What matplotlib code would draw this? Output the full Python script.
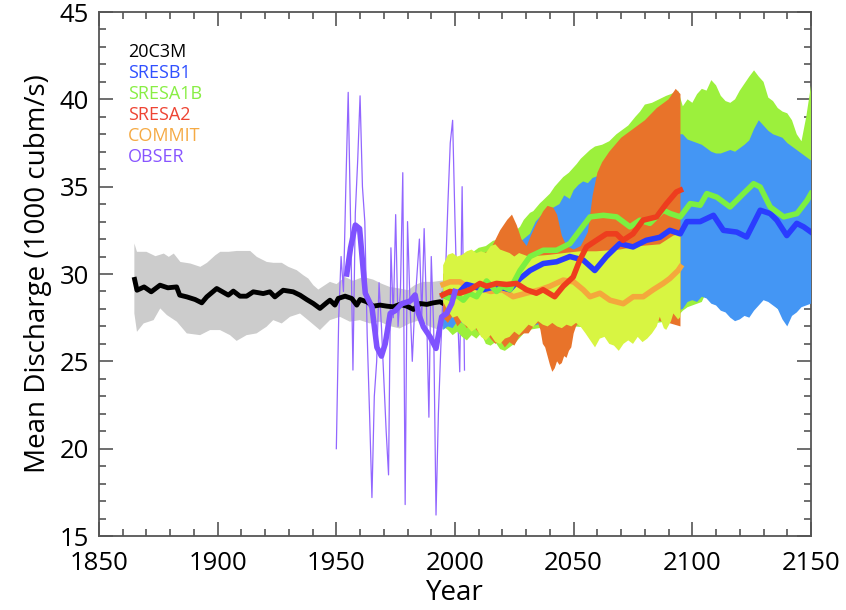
import numpy as np
import matplotlib
matplotlib.use("Agg")
import matplotlib.pyplot as plt
from matplotlib.ticker import MultipleLocator

# ---- 20C3M ensemble (mean + spread) ----
hist_years = [1865, 1866, 1869, 1872, 1875.7, 1879, 1882.7, 1884, 1887, 1890.5, 1893.3, 1895.4, 1899.6,
              1904.5, 1906.6, 1909.4, 1912.2, 1915, 1919.2, 1922, 1924.1, 1927.6, 1931.8, 1934.7, 1937.5,
              1940.3, 1943.1, 1945.9, 1947.3, 1949.4, 1950.8, 1953.7, 1956.5, 1958.6, 1960, 1962.8, 1965.6,
              1968.4, 1971.2, 1974, 1976.8, 1979.7, 1982.5, 1985.3, 1988.1, 1990.9, 1993.7, 1995.1]
hist_mean = [29.69, 29.07, 29.26, 28.98, 29.36, 29.21, 29.26, 28.79, 28.69, 28.54, 28.35, 28.69, 29.17,
             28.79, 29.02, 28.73, 28.73, 28.98, 28.88, 28.98, 28.69, 29.07, 28.98, 28.79, 28.54,
             28.31, 28.03, 28.35, 28.50, 28.22, 28.60, 28.73, 28.60, 28.22, 28.54, 28.41, 28.16,
             28.22, 28.16, 28.12, 28.26, 28.16, 27.97, 28.31, 28.26, 28.35, 28.41, 28.31]

hist_hi_years = [1864.9, 1866, 1870, 1873.8, 1877.3, 1879.4, 1881.5, 1884.3, 1888.5, 1892.7, 1895.5, 1899,
                 1901.1, 1904.6, 1908.1, 1913.7, 1916.5, 1920.7, 1923.5, 1927, 1929.8, 1933.3, 1936.1,
                 1938.2, 1940.3, 1942.4, 1944.5, 1947.3, 1950.1, 1953.6, 1957.1, 1961.3, 1965.5, 1969,
                 1972.5, 1976.7, 1980.2, 1983, 1986.5, 1990.7, 1995.5]
hist_hi = [31.75, 31.27, 31.27, 31.02, 31.17, 30.98, 31.17, 30.69, 30.60, 30.41, 30.64, 31.07,
           31.27, 31.27, 31.32, 31.32, 30.98, 30.69, 30.64, 30.64, 30.41, 30.22, 29.93,
           29.74, 29.36, 29.11, 29.30, 29.55, 29.42, 29.83, 29.61, 29.83, 29.68, 29.45,
           29.26, 29.17, 29.07, 29.36, 29.55, 29.55, 29.64]
hist_lo_years = [1864.9, 1866, 1868.8, 1873, 1875.8, 1878.6, 1882.8, 1887, 1892.6, 1896.8, 1901, 1905.2,
                 1908, 1912.2, 1916.4, 1920.6, 1923.4, 1927, 1930.5, 1934.7, 1938.9, 1943.1, 1947.3,
                 1951.5, 1955.7, 1959.9, 1964.1, 1968.3, 1972.5, 1976.7, 1980.9, 1985.1, 1989.4,
                 1993.6, 1995.5]
hist_lo = [27.74, 26.69, 27.17, 27.36, 28.03, 27.65, 27.27, 26.60, 26.50, 26.79, 26.79, 26.50,
           26.17, 26.50, 26.60, 26.98, 27.36, 27.17, 27.55, 27.74, 27.27, 26.79, 27.36,
           27.55, 27.27, 27.36, 27.17, 27.27, 27.02, 26.88, 27.17, 27.36, 26.98,
           26.79, 26.88]

# ---- observations ----
obs_years = list(range(1950, 2005))
obs_annual = [20.0, 27.5, 31.0, 29.0, 35.0, 40.4, 33.0, 24.5, 33.5, 36.5,
              40.2, 35.0, 33.0, 26.5, 22.0, 17.2, 23.0, 25.0, 29.5, 27.0,
              24.0, 21.0, 18.5, 31.5, 27.5, 33.4, 27.0, 29.0, 35.8, 16.8,
              33.0, 28.5, 25.0, 28.0, 30.0, 32.0, 27.5, 32.6, 28.0, 21.8,
              31.0, 27.0, 16.2, 22.0, 25.7, 29.0, 30.0, 34.0, 37.5, 38.8,
              33.0, 28.0, 24.4, 35.0, 24.5]
obs_sm_years = [1954.4, 1956, 1958, 1959.8, 1962.2, 1965, 1967.1, 1969, 1970.6, 1972.7, 1974.8, 1977.6,
                1981.1, 1983.2, 1984.6, 1986.7, 1989.5, 1992, 1994.4, 1996.5, 1998.6, 2000]
obs_smooth = [30.0, 31.5, 32.8, 32.6, 28.9, 28.1, 25.8, 25.3, 26.0, 27.74, 27.9, 28.3,
              28.45, 28.8, 27.74, 26.97, 26.4, 25.74, 27.55, 27.74, 28.3, 29.0]

# ---- SRESA1B (green) ----
a1b_hi_years = [1995, 1998, 2001, 2004, 2007, 2010, 2013, 2016, 2019, 2022, 2025, 2027.4, 2029, 2031.6,
                2033, 2035.8, 2037, 2040, 2042, 2045.6, 2048, 2051.3, 2053, 2056.9, 2059, 2062, 2065,
                2068, 2070, 2073, 2076, 2078, 2080, 2083, 2086, 2089, 2091, 2094,
                2096, 2098, 2100, 2102, 2104, 2106, 2108, 2110, 2112, 2114, 2116, 2118, 2120, 2122,
                2124, 2126, 2128, 2130, 2132, 2134, 2136, 2138, 2140, 2142, 2144, 2146, 2148, 2150]
a1b_hi = [30.0, 30.3, 30.5, 30.8, 31.2, 31.5, 31.6, 31.9, 32.0, 32.3, 32.4, 32.7, 33.1, 33.5,
          33.6, 34.05, 34.2, 34.6, 35.0, 35.55, 35.8, 36.3, 36.6, 37.1, 37.3, 37.4, 37.6,
          38.0, 38.2, 38.5, 39.0, 39.3, 39.7, 39.8, 40.0, 40.2, 40.3, 40.5,
          39.6, 40.0, 39.8, 40.3, 40.6, 40.5, 41.1, 40.8, 40.2, 39.9, 39.8, 40.0, 40.5, 40.9,
          41.3, 41.66, 41.3, 41.0, 40.1, 39.9, 39.5, 39.3, 39.2, 38.8, 38.0, 37.6, 39.0, 40.8]
a1b_lo_years = [1995, 1997, 1999, 2001, 2003, 2005, 2007, 2009, 2011, 2013, 2015, 2017, 2019, 2021,
                2023, 2025, 2027, 2029, 2031, 2040, 2050, 2060, 2070, 2080, 2090, 2094,
                2096, 2098, 2100, 2102, 2104, 2106, 2108, 2110, 2112, 2114, 2116, 2118, 2120, 2122,
                2124, 2126, 2128, 2130, 2132, 2134, 2136, 2138, 2140, 2142, 2144, 2146, 2148, 2150]
a1b_lo = [27.0, 26.8, 26.5, 26.7, 26.4, 26.2, 26.5, 26.3, 26.6, 26.0, 25.9, 26.1, 25.7, 25.6,
          25.8, 26.0, 26.3, 26.6, 26.8, 27.0, 27.0, 26.9, 26.9, 27.1, 27.3, 27.6,
          27.9, 28.1, 28.2, 28.3, 28.4, 29.0, 29.4, 28.9, 28.5, 28.4, 28.3, 28.1, 28.1, 28.3,
          28.6, 28.9, 28.9, 28.6, 28.5, 28.3, 28.0, 27.8, 27.7, 28.0, 28.3, 28.3, 28.4, 28.5]
a1b_years = [1995, 1997.9, 2000.5, 2003.5, 2006, 2009.1, 2013.3, 2017.5, 2020, 2023.1, 2027.4, 2031.6,
             2037.2, 2042.8, 2048.4, 2052.6, 2056.9, 2062.5, 2068.1, 2073.7, 2077.9, 2082.1, 2087.7,
             2090.7, 2094.9, 2099.1, 2103.3, 2106.1, 2110.3, 2115.9, 2121.5, 2125.8, 2128.6,
             2132.8, 2138.5, 2144.1, 2148.3, 2150]
a1b_mean = [28.8, 28.6, 28.8, 28.5, 28.9, 28.7, 29.6, 29.0, 29.3, 29.1, 30.2, 31.0,
            31.36, 31.36, 31.74, 32.5, 33.27, 33.36, 33.27, 32.7, 33.08, 32.9, 33.65,
            33.46, 33.27, 34.03, 33.94, 34.6, 34.4, 33.84, 34.6, 35.17, 34.98,
            33.84, 33.27, 33.46, 34.2, 34.6]

# ---- SRESB1 (blue) ----
b1_hi_years = [1995, 2000, 2005, 2010, 2015, 2020, 2025, 2028, 2031.6, 2034, 2036, 2039, 2041.4, 2044,
               2046, 2048.4, 2050, 2052, 2054, 2056, 2058, 2060, 2070, 2080, 2090, 2094,
               2096, 2098, 2100, 2102, 2104, 2106, 2108, 2110, 2112, 2114, 2116, 2118, 2120, 2122,
               2124, 2126, 2128, 2130, 2132, 2134, 2136, 2138, 2140, 2142, 2144, 2146, 2148, 2150]
b1_hi = [29.8, 30.2, 30.5, 30.8, 31.0, 31.3, 31.6, 31.9, 32.3, 33.0, 33.3, 33.6, 33.8, 34.0,
         34.5, 34.3, 34.8, 35.1, 35.3, 35.2, 35.5, 35.6, 36.0, 37.0, 37.5, 38.0,
         38.0, 37.7, 37.6, 37.5, 37.4, 37.2, 37.0, 36.9, 36.9, 37.0, 37.1, 37.0, 37.2, 37.4,
         37.65, 38.3, 38.8, 38.5, 38.2, 38.0, 37.9, 37.8, 37.5, 37.3, 37.1, 36.9, 36.7, 36.5]
b1_lo_years = [1995, 1997, 1999, 2001, 2003, 2005, 2010, 2015, 2020, 2025, 2031.6, 2041.4, 2050, 2060,
               2070, 2080, 2090, 2094,
               2096, 2098, 2100, 2102, 2104, 2106, 2108, 2110, 2112, 2114, 2116, 2118, 2120, 2122,
               2124, 2126, 2128, 2130, 2132, 2134, 2136, 2138, 2140, 2142, 2144, 2146, 2148, 2150]
b1_lo = [26.8, 27.0, 26.9, 27.3, 27.2, 27.0, 27.0, 26.8, 26.6, 26.8, 27.0, 27.3, 27.3, 27.2,
         27.3, 27.4, 27.6, 27.9,
         28.0, 28.4, 28.5, 28.4, 28.7, 28.6, 28.3, 28.2, 27.9, 27.8, 27.5, 27.3, 27.4, 27.6,
         27.5, 27.9, 28.2, 28.5, 28.4, 28.2, 28.0, 27.4, 27.0, 27.6, 27.8, 28.1, 28.2, 28.3]
b1_years = [1995, 1996.5, 2000.7, 2004.9, 2007.7, 2011.9, 2017.5, 2023.1, 2027.4, 2031.6, 2037.2,
            2042.8, 2048.4, 2054, 2058.9, 2063.8, 2069.4, 2075, 2080.6, 2086.3, 2090.5, 2094.9,
            2097.7, 2103.3, 2108.9, 2113.1, 2118.7, 2122.9, 2128.6, 2132.8, 2135.6, 2139.8,
            2144, 2146.9, 2150]
b1_mean = [28.8, 28.7, 28.8, 29.4, 29.3, 29.1, 29.3, 29.1, 29.74, 30.2, 30.6,
           30.7, 31.0, 30.8, 30.2, 31.0, 31.74, 31.55, 31.93, 32.1, 32.5, 32.3,
           33.0, 33.0, 33.36, 32.5, 32.4, 32.12, 33.65, 33.46, 33.08, 32.2,
           32.9, 32.7, 32.4]

# ---- SRESA2 (orange band, red line) ----
a2_hi_years = [1995, 2000, 2005, 2010, 2015, 2019, 2022, 2024, 2026, 2028, 2030.2, 2032, 2034.4, 2037.2,
               2039, 2041.4, 2043, 2045, 2047, 2050, 2053, 2056, 2058, 2060, 2062, 2065, 2070, 2075,
               2080, 2085, 2090, 2093, 2095]
a2_hi = [30.0, 30.4, 30.7, 31.0, 31.4, 32.5, 33.1, 33.4, 32.8, 32.0, 31.6, 32.2, 32.9, 33.6,
         33.9, 33.8, 33.4, 32.2, 31.6, 31.4, 31.6, 32.4, 34.5, 35.8, 36.4, 37.0, 37.8, 38.3,
         38.8, 39.5, 40.0, 40.6, 40.3]
a2_lo_years = [1995, 1997, 1999, 2001, 2003, 2005, 2007, 2009, 2011, 2013, 2015, 2017, 2019, 2021,
               2023, 2025, 2027, 2029, 2031, 2033, 2035, 2036, 2037, 2038, 2039, 2040, 2041, 2042,
               2043, 2044, 2045, 2046, 2047, 2048, 2049, 2050, 2051, 2053, 2060, 2070, 2080, 2090,
               2095]
a2_lo = [27.5, 27.2, 27.6, 27.0, 27.3, 26.9, 27.2, 26.8, 26.5, 26.7, 26.3, 26.0, 26.2, 25.8,
         26.1, 25.9, 26.4, 26.6, 26.6, 27.0, 27.2, 26.8, 26.0, 25.8, 25.3, 24.8, 24.4, 24.6,
         25.0, 24.8, 24.9, 25.3, 25.2, 25.6, 25.8, 26.6, 27.0, 27.4, 27.6, 27.8, 27.5, 27.2,
         27.0]
a2_years = [1994.8, 1997.9, 2002.1, 2006.3, 2010.5, 2013.3, 2017.5, 2021.7, 2025.9, 2030.1, 2034.3,
            2037.1, 2042, 2045.6, 2049.8, 2052.6, 2055.4, 2059.6, 2063.8, 2068, 2070.8, 2075,
            2079.2, 2084.9, 2089.1, 2093.3, 2095]
a2_mean = [28.8, 29.0, 28.9, 29.1, 29.46, 29.3, 29.46, 29.4, 29.46, 29.1, 28.9,
           29.1, 28.7, 29.3, 29.83, 30.8, 31.55, 31.93, 32.3, 32.3, 31.93, 32.3,
           33.08, 33.27, 34.03, 34.7, 34.8]

# ---- COMMIT (yellow band, light orange line) ----
cm_hi_years = [1995, 1997, 1999, 2001, 2003, 2005, 2007, 2009, 2011, 2013, 2015, 2017, 2019, 2021,
               2023, 2025, 2027, 2029, 2031, 2040, 2046, 2052.6, 2059.6, 2069.4, 2077.8, 2086.3,
               2092, 2095]
cm_hi = [30.5, 31.1, 31.2, 31.0, 31.1, 31.3, 31.4, 31.2, 31.3, 31.2, 31.6, 31.7, 31.4, 31.3,
         31.2, 31.0, 31.2, 31.1, 31.0, 31.1, 31.2, 31.3, 31.3, 31.4, 31.6, 31.7,
         32.2, 32.3]
cm_lo_years = [1995, 1997, 1999, 2001, 2003, 2005, 2007, 2009, 2011, 2013, 2015, 2017, 2019, 2021,
               2023, 2025, 2027, 2029, 2031, 2033, 2035, 2037, 2039, 2041, 2043, 2045, 2047, 2049,
               2051, 2053, 2055, 2057, 2059, 2061, 2063, 2065, 2067, 2069, 2071, 2073, 2075, 2077,
               2079, 2081, 2083, 2085, 2086.3, 2088, 2089, 2091, 2092, 2094, 2095]
cm_lo = [28.4, 27.9, 27.5, 27.6, 27.2, 27.0, 26.7, 26.9, 26.4, 26.2, 26.5, 26.1, 26.0, 26.3,
         26.4, 26.7, 26.5, 26.8, 27.1, 26.97, 27.3, 27.1, 27.0, 27.2, 27.0, 26.9, 27.1, 27.0,
         27.2, 26.97, 26.6, 26.2, 25.8, 26.3, 26.4, 26.0, 25.9, 25.6, 26.0, 26.2, 26.0, 26.4,
         26.1, 26.3, 26.6, 27.0, 27.55, 26.9, 26.8, 27.3, 27.74, 27.4, 27.55]
cm_years = [1995, 1997.9, 2002.1, 2004.9, 2010, 2015, 2020, 2024.5, 2030, 2035.8, 2040, 2045.6,
            2050, 2054, 2056.9, 2061.1, 2065.3, 2070.9, 2075.1, 2079.3, 2083.5, 2087.7, 2090.5,
            2094, 2095]
cm_mean = [29.4, 29.55, 29.55, 29.3, 29.2, 29.0, 29.1, 28.7, 28.9, 29.1, 29.3, 29.65,
           29.55, 29.1, 28.7, 28.9, 28.5, 28.3, 28.7, 28.7, 29.1, 29.46, 29.74,
           30.2, 30.4]

legend_names = ["20C3M", "SRESB1", "SRESA1B", "SRESA2", "COMMIT", "OBSER"]
legend_colors = ["#000000", "#3050ff", "#88ee44", "#ee4433", "#f5aa44", "#8855ff"]


def band(ax, hi_x, hi_y, lo_x, lo_y, color, z):
    xs = list(hi_x) + list(lo_x)[::-1]
    ys = list(hi_y) + list(lo_y)[::-1]
    ax.fill(xs, ys, color=color, lw=0, zorder=z)


plt.rcParams["font.family"] = ["Open Sans", "DejaVu Sans"]

fig = plt.figure(figsize=(8.46, 6.10), dpi=100)
ax = fig.add_axes([99 / 846, 74 / 610, 712 / 846, 524 / 610])

# historical spread and mean
band(ax, hist_hi_years, hist_hi, hist_lo_years, hist_lo, "#cccccc", 1)
ax.plot(obs_years, obs_annual, color="#9266ff", lw=0.9, zorder=2)
ax.plot(hist_years, hist_mean, color="black", lw=3.5, zorder=2.5)

# projection spreads: green, blue, orange, yellow
band(ax, a1b_hi_years, a1b_hi, a1b_lo_years, a1b_lo, "#9cf03c", 3)
band(ax, b1_hi_years, b1_hi, b1_lo_years, b1_lo, "#4496f4", 4)
band(ax, a2_hi_years, a2_hi, a2_lo_years, a2_lo, "#e8732a", 5)
band(ax, cm_hi_years, cm_hi, cm_lo_years, cm_lo, "#d8f542", 6)

# projection means
ax.plot(cm_years, cm_mean, color="#f4a83c", lw=4, zorder=7)
ax.plot(b1_years, b1_mean, color="#2a3cff", lw=4, zorder=8)
ax.plot(a1b_years, a1b_mean, color="#7cf040", lw=4, zorder=9)
ax.plot(a2_years, a2_mean, color="#ee3d1e", lw=4, zorder=10)

ax.plot(obs_sm_years, obs_smooth, color="#7f52ff", lw=4, zorder=11)

ax.set_xlim(1850, 2150)
ax.set_ylim(15, 45)
ax.xaxis.set_major_locator(MultipleLocator(50))
ax.xaxis.set_minor_locator(MultipleLocator(10))
ax.yaxis.set_major_locator(MultipleLocator(5))
ax.yaxis.set_minor_locator(MultipleLocator(1))
ax.tick_params(which="both", direction="in", top=True, right=True, color="#555555", width=1.2)
ax.tick_params(which="major", length=10, labelsize=18.5)
ax.tick_params(axis="x", which="major", pad=11)
ax.tick_params(axis="y", which="major", pad=7)
ax.tick_params(which="minor", length=5)
for s in ax.spines.values():
    s.set_color("#555555")
    s.set_linewidth(1.3)

ax.set_xlabel("Year", fontsize=20, labelpad=2)
ax.set_ylabel("Mean Discharge (1000 cubm/s)", fontsize=20, labelpad=6)

for i, (name, col) in enumerate(zip(legend_names, legend_colors)):
    ax.text(0.041, 0.924 - i * 0.0401, name, color=col, fontsize=13,
            transform=ax.transAxes, va="center", ha="left", zorder=12)

fig.savefig("out.png", dpi=100)
